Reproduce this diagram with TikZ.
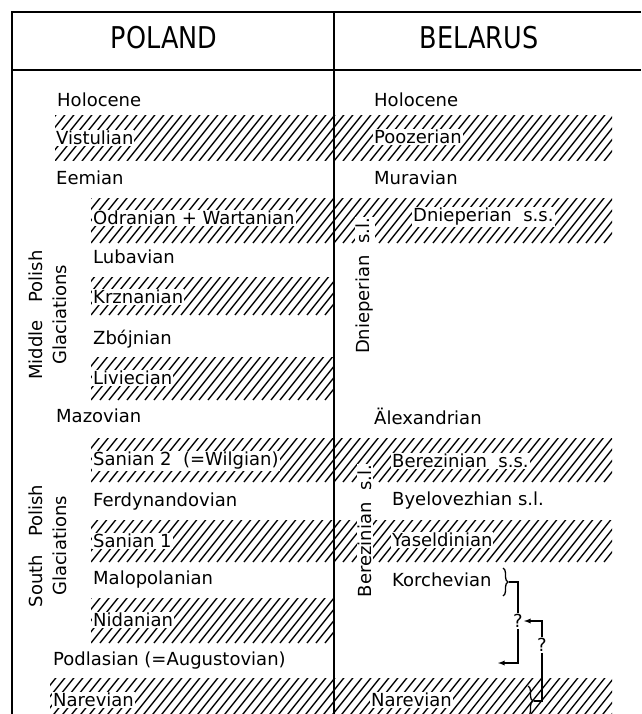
\documentclass[tikz,border=0pt]{standalone}
\usepackage{fontspec}
\setmainfont{DejaVu Sans}
\newfontfamily\headfont[FakeStretch=0.85]{DejaVu Sans}
\usetikzlibrary{arrows, decorations.pathreplacing}

% hatched band between (x1,y1) and (x2,y2)
\newcommand{\hatchband}[4]{%
  \begin{scope}
    \clip (#1,#2) rectangle (#3,#4);
    \foreach \hx in {-80,-71,...,660}
      \draw[hatchline] (\hx,#4) -- ++(64,-80);
  \end{scope}}

\tikzset{
  hatchline/.style={line width=1.35pt},
  frame/.style={line width=1.4pt},
  lbl/.style={anchor=west, inner sep=1pt, fill=white, font=\fontsize{18}{21}\selectfont},
  vlbl/.style={rotate=90, align=center, inner sep=1pt, fill=white, font=\fontsize{18}{24}\selectfont},
  head/.style={font=\headfont\fontsize{30}{32}\selectfont},
  brk/.style={line width=1.3pt, decorate, decoration={brace, amplitude=5pt}}
}

\begin{document}
\begin{tikzpicture}[x=1pt, y=-1pt]
      \useasboundingbox (0,0) rectangle (641,714);

      % table frame
      \draw[frame] (641,12) -- (12,12) -- (12,714);
      \draw[frame] (12,70) -- (641,70);
      \draw[frame] (334,12) -- (334,714);

      \node[head] (pl) at (164,38) {POLAND};
      \node[head] (by) at (479,38) {BELARUS};

      % hatched bands, Poland
      \hatchband{55}{116}{334}{161}
      \hatchband{91}{198}{334}{243}
      \hatchband{91}{277}{334}{315}
      \hatchband{91}{357}{334}{400}
      \hatchband{91}{438}{334}{482}
      \hatchband{91}{520}{334}{562}
      \hatchband{91}{598}{334}{643}
      \hatchband{50}{678}{334}{724}

      % hatched bands, Belarus
      \hatchband{334}{116}{612}{161}
      \hatchband{334}{198}{612}{243}
      \hatchband{334}{438}{612}{482}
      \hatchband{334}{520}{612}{562}
      \hatchband{334}{678}{612}{724}

      % Poland
      \node[lbl] (pholo) at (56,100) {Holocene};
      \node[lbl] (pvist) at (55,138) {Vistulian};
      \node[lbl] (peem) at (55,178) {Eemian};
      \node[lbl] (podr) at (92,218) {Odranian + Wartanian};
      \node[lbl] (plub) at (92,257) {Lubavian};
      \node[lbl] (pkrz) at (92,297) {Krznanian};
      \node[lbl] (pzbo) at (92,339) {Zbójnian};
      \node[lbl] (pliv) at (92,378) {Liviecian};
      \node[lbl] (pmaz) at (55,416) {Mazovian};
      \node[lbl] (psan2) at (92,461) {Sanian 2\ \ (=Wilgian)};
      \node[lbl] (pfer) at (92,502) {Ferdynandovian};
      \node[lbl] (psan1) at (92,541) {Sanian 1};
      \node[lbl] (pmal) at (92,580) {Malopolanian};
      \node[lbl] (pnid) at (92,620) {Nidanian};
      \node[lbl] (ppod) at (52,661) {Podlasian (=Augustovian)};
      \node[lbl] (pnar) at (52,700) {Narevian};

      \node[vlbl] (mpg) at (48,315) {Middle\quad Polish\\Glaciations};
      \node[vlbl] (spg) at (48,546) {South\quad Polish\\Glaciations};

      % Belarus
      \node[lbl] (bholo) at (373,100) {Holocene};
      \node[lbl] (bpoo) at (373,137) {Poozerian};
      \node[lbl] (bmur) at (373,178) {Muravian};
      \node[lbl] (bdss) at (412,217) {Dnieperian\ \ s.s.};
      \node[lbl] (bale) at (373,416) {Älexandrian};
      \node[lbl] (bbss) at (391,461) {Berezinian\ \ s.s.};
      \node[lbl] (bbye) at (391,501) {Byelovezhian s.l.};
      \node[lbl] (byas) at (391,540) {Yaseldinian};
      \node[lbl] (bkor) at (391,580) {Korchevian};
      \node[lbl] (bnar) at (370,700) {Narevian};

      \node[vlbl] (dsl) at (365,286) {Dnieperian\ \ s.l.};
      \node[vlbl] (bsl) at (365,531) {Berezinian\ \ s.l.};

      % correlation brackets
      \draw[brk] (503,568) -- (503,596);
      \coordinate (kt) at (509,582);
      \node[lbl, anchor=center, fill=none] (q1) at (518,621) {?};
      \node[lbl, anchor=center, fill=none] (q2) at (542,645) {?};
      \coordinate (pa) at (498,663);
      \draw[brk] (528,686) -- (528,716);
      \coordinate (nt) at (534,701);

      \draw[line width=1.3pt] (kt) -| (q1.north);
      \draw[line width=1.3pt, -latex] (q1.south) |- (pa);
      \draw[line width=1.3pt, -latex] (q2.north) |- (q1.east);
      \draw[line width=1.3pt] (q2.south) |- (nt);

    \end{tikzpicture}
\end{document}
